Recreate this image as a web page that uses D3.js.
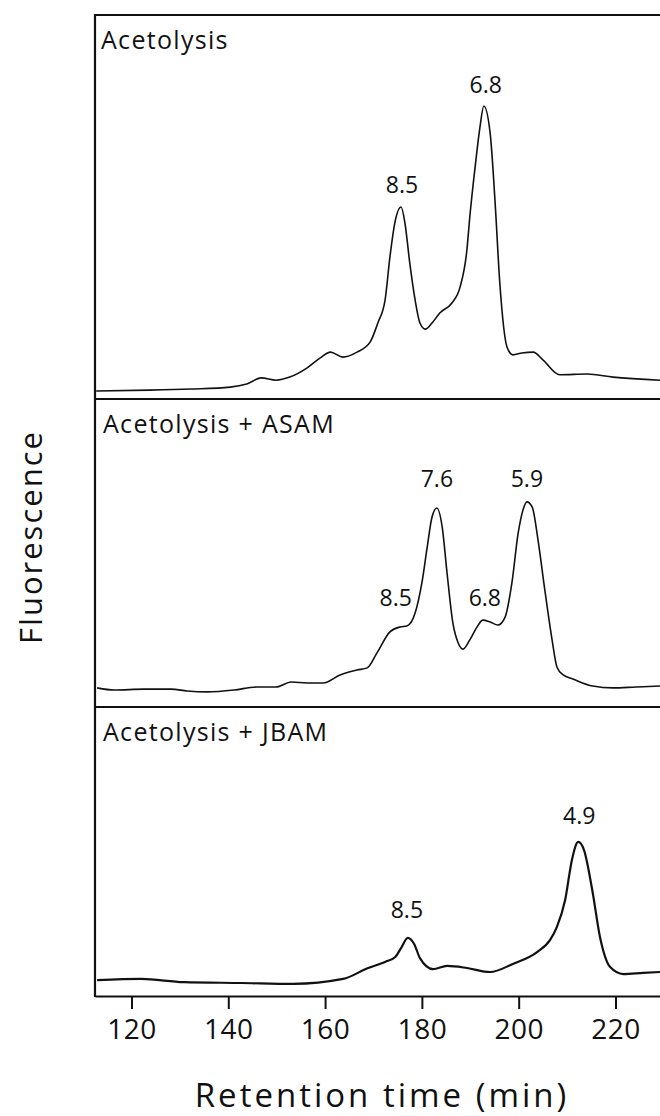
<!DOCTYPE html>
<html>
<head>
<meta charset="utf-8">
<script src="https://cdn.jsdelivr.net/npm/d3@7"></script>
<style>
  body { margin: 0; background: #fff; }
  text { font-family: "Open Sans", sans-serif; fill: #111; }
</style>
</head>
<body>
<script>
// retention time (min) and fluorescence (relative, 0-100 of each panel)
var acetolysisT = [112.7,123.8,132.3,140.4,143.8,146.8,149.9,152.7,156.3,159.0,161.1,163.7,166.6,169.3,170.9,172.4,173.4,174.4,175.7,176.5,177.5,178.6,179.6,180.7,182.1,183.7,186.2,187.9,189.3,189.9,191.0,192.0,192.8,194.1,195.1,196.1,197.6,198.8,200.7,203.0,205.0,208.5,214.1,219.5,229.2];
var acetolysisF = [2.1,2.3,2.6,3.1,3.9,5.5,4.9,5.7,8.1,10.7,12.2,10.9,12.2,14.8,19.8,25.8,37.0,45.8,50.0,45.8,35.4,25.8,19.8,18.2,19.8,22.4,25.0,29.2,38.8,47.4,60.4,70.8,76.3,69.3,51.8,30.2,13.5,11.5,12.0,12.2,10.2,6.3,6.5,5.7,4.9];

var asamT = [112.9,116.4,122.6,128.2,131.5,135.6,141.2,145.9,149.9,153.0,156.3,159.6,163.1,166.6,168.7,170.7,173.4,175.5,176.9,178.6,180.0,181.1,182.1,183.1,184.2,185.2,186.4,187.5,188.5,189.9,191.4,192.6,194.1,195.7,197.2,198.6,199.9,200.9,201.7,202.8,204.0,205.4,206.9,207.9,209.2,211.2,215.3,219.5,224.2,229.2];
var asamF = [6.2,5.5,5.8,5.8,5.2,4.9,5.5,6.5,6.5,8.1,7.8,7.8,10.4,12.0,12.7,17.5,24.4,26.0,26.3,30.5,40.3,51.9,61.7,64.6,58.4,43.5,27.3,20.8,18.8,21.8,26.0,28.2,27.6,26.6,29.2,40.3,56.5,64.0,66.6,64.9,54.2,38.0,21.8,13.0,10.4,9.1,6.8,6.2,6.5,6.8];

var jbamT = [112.9,122.0,130.8,142.8,153.4,163.7,168.9,172.4,174.5,175.7,177.1,178.4,179.6,182.3,185.2,189.3,194.1,198.8,203.8,206.5,207.9,209.6,211.0,212.3,213.5,215.2,216.8,218.9,221.6,225.7,229.2];
var jbamF = [5.5,5.9,4.8,4.5,4.2,5.9,9.7,11.8,13.5,16.6,20.1,18.0,13.1,9.3,10.4,9.7,8.3,11.1,15.2,19.4,23.9,33.2,47.1,53.3,50.5,36.7,20.4,10.0,7.6,8.0,8.3];

var panelNames = ["Acetolysis", "Acetolysis + ASAM", "Acetolysis + JBAM"];

// peak labels (dp values): panel index, time, fluorescence
var peakLabels = ["8.5", "6.8", "7.6", "5.9", "8.5", "6.8", "8.5", "4.9"];
var peakPanel  = [0, 0, 1, 1, 1, 1, 2, 2];
var peakT      = [175.9, 193.2, 183.1, 201.7, 174.6, 193.0, 176.9, 212.5];
var peakF      = [53.6, 79.7, 71.4, 71.4, 32.8, 32.8, 27.0, 59.5];

var tickValues = [120, 140, 160, 180, 200, 220];

var W = 660, H = 1116;
var left = 95, right = 660;
// panel boundaries (top, bottom)
var panels = [[15, 399], [399, 707], [707, 996]];

var svg = d3.select("body").append("svg")
    .attr("width", W)
    .attr("height", H);

var x = d3.scaleLinear()
    .domain([112.46, 229.2])
    .range([left, right]);

var series = [
  d3.zip(acetolysisT, acetolysisF),
  d3.zip(asamT, asamF),
  d3.zip(jbamT, jbamF)
];

panels.forEach(function(p, i) {
  var y = d3.scaleLinear().domain([0, 100]).range([p[1], p[0]]);

  var line = d3.line()
      .x(function(d) { return x(d[0]); })
      .y(function(d) { return y(d[1]); })
      .curve(d3.curveMonotoneX);

  svg.append("path")
      .datum(series[i])
      .attr("d", line)
      .attr("fill", "none")
      .attr("stroke", "#111")
      .attr("stroke-width", i == 2 ? 2.2 : 1.6)
      .attr("stroke-linejoin", "round");

  // top border of each panel
  svg.append("line")
      .attr("x1", left).attr("x2", right)
      .attr("y1", p[0]).attr("y2", p[0])
      .attr("stroke", "#111").attr("stroke-width", 2.2);

  svg.append("text")
      .attr("x", i == 0 ? 101 : 103)
      .attr("y", p[0] + 34)
      .attr("font-size", 25)
      .attr("letter-spacing", 1.3)
      .text(panelNames[i]);

  peakLabels.forEach(function(lab, k) {
    if (peakPanel[k] != i) return;
    svg.append("text")
        .attr("x", x(peakT[k]))
        .attr("y", y(peakF[k]))
        .attr("text-anchor", "middle")
        .attr("font-size", 23)
        .text(lab);
  });
});

// left frame
svg.append("line")
    .attr("x1", left).attr("x2", left)
    .attr("y1", panels[0][0] - 1).attr("y2", panels[2][1] + 1)
    .attr("stroke", "#111").attr("stroke-width", 2.2);

// bottom axis
var axis = svg.append("g")
    .attr("transform", "translate(0," + panels[2][1] + ")")
    .call(d3.axisBottom(x).tickValues(tickValues).tickSize(13).tickSizeOuter(0).tickPadding(10));

axis.select(".domain").attr("stroke", "#111").attr("stroke-width", 2.2);
axis.selectAll(".tick line").attr("stroke", "#111").attr("stroke-width", 2);
axis.selectAll(".tick text")
    .attr("font-size", 28)
    .attr("font-family", "Open Sans, sans-serif")
    .attr("fill", "#111")
    .attr("letter-spacing", 0.5);

svg.append("text")
    .attr("x", 382)
    .attr("y", 1107)
    .attr("text-anchor", "middle")
    .attr("font-size", 33)
    .attr("letter-spacing", 3)
    .text("Retention time (min)");

svg.append("text")
    .attr("transform", "translate(42,537) rotate(-90)")
    .attr("text-anchor", "middle")
    .attr("font-size", 31)
    .attr("letter-spacing", 2)
    .text("Fluorescence");
</script>
</body>
</html>
